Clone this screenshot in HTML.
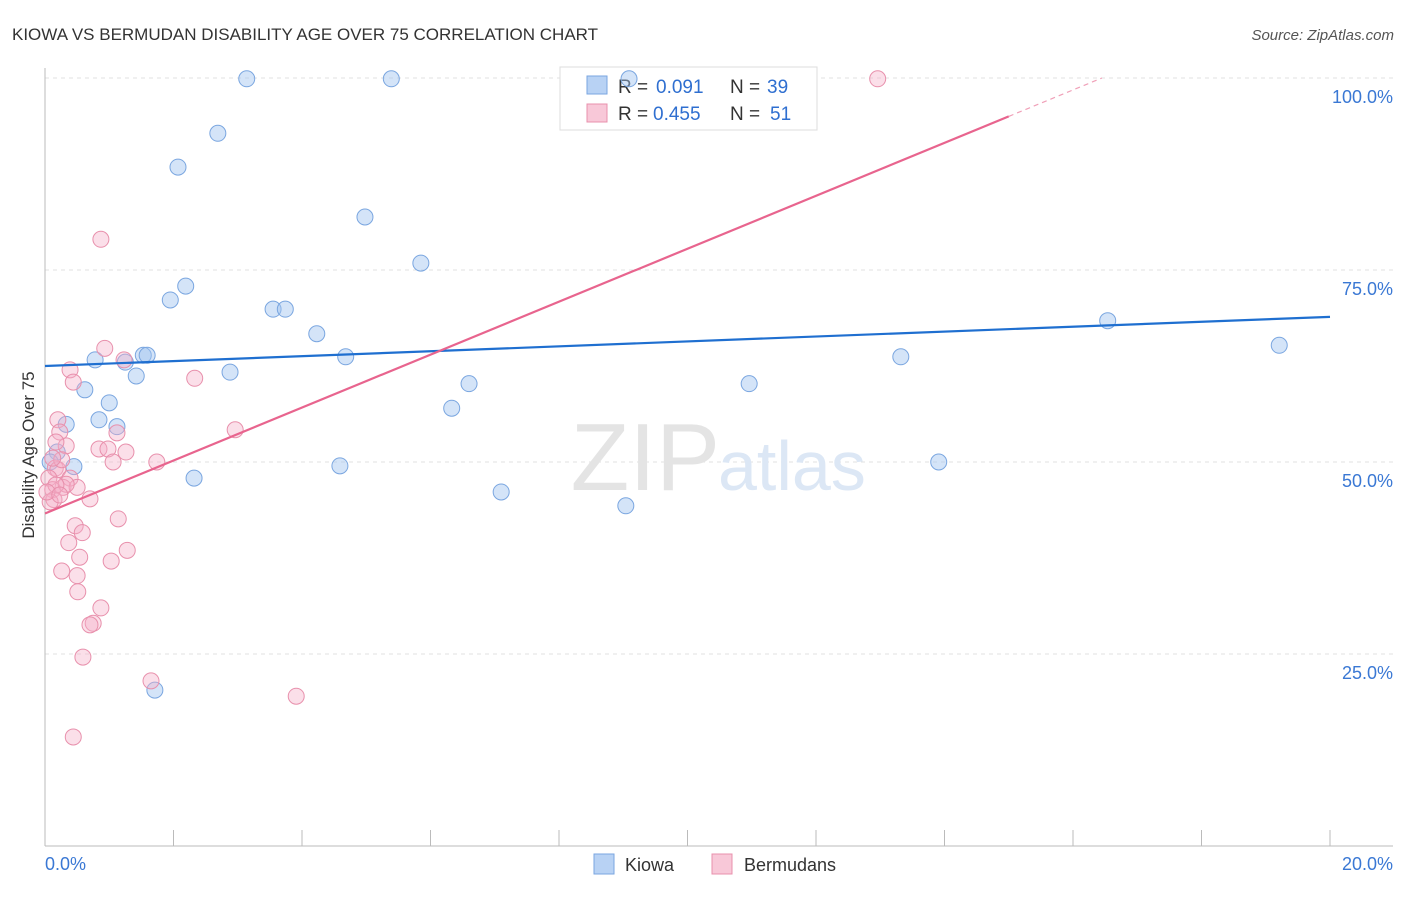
<!DOCTYPE html>
<html><head><meta charset="utf-8"><style>
body{margin:0;background:#fff;font-family:"Liberation Sans",sans-serif}
svg text{font-family:"Liberation Sans",sans-serif}
</style></head><body>
<svg width="1406" height="892">
<text x="12" y="40" font-size="17" fill="#333">KIOWA VS BERMUDAN DISABILITY AGE OVER 75 CORRELATION CHART</text>
<text x="1394" y="40" font-size="15" fill="#555" text-anchor="end" font-style="italic">Source: ZipAtlas.com</text>
<g id="grid"></g>
<text x="720" y="490" font-size="96" fill="#e4e4e4" text-anchor="end" font-family="Liberation Serif">ZIP</text>
<text x="718" y="490" font-size="70" fill="#dce7f5">atlas</text>
<text x="34" y="455" font-size="17" fill="#333" text-anchor="middle" transform="rotate(-90 34 455)">Disability Age Over 75</text>
<g>
<rect x="560" y="67" width="257" height="63" fill="#fff" stroke="#ddd"/>
<rect x="587" y="76" width="20" height="18" fill="#b8d2f4" stroke="#7aa6e0"/>
<text x="618" y="93" font-size="19" fill="#333">R =</text>
<text x="656" y="93" font-size="19" fill="#2f6fd0">0.091</text>
<text x="730" y="93" font-size="19" fill="#333">N =</text>
<text x="767" y="93" font-size="19" fill="#2f6fd0">39</text>
<rect x="587" y="104" width="20" height="18" fill="#f8c8d8" stroke="#e890ac"/>
<text x="618" y="120" font-size="19" fill="#333">R =</text>
<text x="653" y="120" font-size="19" fill="#2f6fd0">0.455</text>
<text x="730" y="120" font-size="19" fill="#333">N =</text>
<text x="770" y="120" font-size="19" fill="#2f6fd0">51</text>
</g>
<g id="pts"></g>
<g id="lines"></g>
<g>
<rect x="594" y="854" width="20" height="20" fill="#b8d2f4" stroke="#7aa6e0"/>
<text x="625" y="871" font-size="18" fill="#333">Kiowa</text>
<rect x="712" y="854" width="20" height="20" fill="#f8c8d8" stroke="#e890ac"/>
<text x="744" y="871" font-size="18" fill="#333">Bermudans</text>
</g>
</svg>
<script>
const blueX=[3.14,5.39,9.09,2.69,2.07,4.98,5.85,2.19,1.95,3.55,3.74,4.23,0.78,1.25,1.53,1.59,4.68,2.88,1.42,6.60,0.62,1.00,6.33,0.33,0.84,1.12,0.19,0.45,4.59,0.08,2.32,7.10,9.04,1.71,10.96,13.32,13.91,16.54,19.21];
const blueY=[99.9,99.9,99.9,92.8,88.4,81.9,75.9,72.9,71.1,69.9,69.9,66.7,63.3,63.0,63.9,63.9,63.7,61.7,61.2,60.2,59.4,57.7,57.0,54.9,55.5,54.6,51.3,49.4,49.5,50.0,47.9,46.1,44.3,20.3,60.2,63.7,50.0,68.4,65.2];
const pinkX=[12.96,0.87,0.93,1.23,2.33,0.39,0.44,0.20,0.23,1.12,0.33,0.84,0.98,1.26,0.17,2.96,1.74,1.06,0.16,0.20,0.39,0.06,0.28,0.50,0.12,0.33,0.70,0.14,0.08,0.47,0.58,1.14,0.37,1.28,0.54,1.03,0.26,0.50,0.51,0.87,0.75,0.70,0.59,1.65,3.91,0.44,0.17,0.03,0.26,0.12,0.23];
const pinkY=[99.9,79.0,64.8,63.3,60.9,62.0,60.4,55.5,53.9,53.8,52.1,51.7,51.7,51.3,52.6,54.2,50.0,50.0,49.2,49.0,47.9,47.9,46.7,46.7,46.4,47.1,45.2,45.1,44.8,41.7,40.8,42.6,39.5,38.5,37.6,37.1,35.8,35.2,33.1,31.0,29.0,28.8,24.6,21.5,19.5,14.2,47.0,46.1,50.3,50.5,45.7];
const blueTrend=[62.5,68.9];
const pinkTrend=[43.3,95.0];
const yTicks=[25,50,75,100];
const xTickLabels=["0.0%","20.0%"];
const NS="http://www.w3.org/2000/svg";
const X=v=>45+v/20*1285, Y=v=>846-v/25*192;
function mk(t,a,p){const e=document.createElementNS(NS,t);for(const k in a)e.setAttribute(k,a[k]);p.appendChild(e);return e;}
const g=document.getElementById('grid');
yTicks.forEach(t=>{
 const l=mk('line',{x1:45,x2:1393,y1:Y(t),y2:Y(t),stroke:'#e2e2e2','stroke-dasharray':'4,4'},g);
 
 
 const tx=mk('text',{x:1393,y:Y(t)+25,'font-size':18,fill:'#3a78d4','text-anchor':'end'},g);
 tx.textContent=t.toFixed(1)+'%';
 
 
});
const ax=mk('line',{x1:45,x2:45,y1:68,y2:846,stroke:'#bbb'},g);


const bx=mk('line',{x1:45,x2:1393,y1:846,y2:846,stroke:'#bbb'},g);


for(let i=0;i<=10;i++){const t=mk('line',{x1:X(i*2),x2:X(i*2),y1:830,y2:846,stroke:'#bbb'},g);
 
 }
[[0,'start',45],[20,'end',1393]].forEach((d,i)=>{const t=mk('text',{x:d[2],y:870,'font-size':18,fill:'#3a78d4','text-anchor':d[1]},g);t.textContent=xTickLabels[i];
 
 });
const p=document.getElementById('pts');
blueX.forEach((v,i)=>{const c=mk('circle',{cx:X(v),cy:Y(blueY[i]),r:8,fill:'rgba(160,195,240,0.45)',stroke:'#7aa6e0','stroke-width':1},p);
 
 });
pinkX.forEach((v,i)=>{const c=mk('circle',{cx:X(v),cy:Y(pinkY[i]),r:8,fill:'rgba(245,175,200,0.4)',stroke:'#e890ac','stroke-width':1},p);
 
 });
const L=document.getElementById('lines');
const bl=mk('line',{x1:X(0),y1:Y(blueTrend[0]),x2:X(20),y2:Y(blueTrend[1]),stroke:'#1f6fd0','stroke-width':2.2},L);


const pl=mk('line',{x1:X(0),y1:Y(pinkTrend[0]),x2:X(15),y2:Y(pinkTrend[1]),stroke:'#e8648e','stroke-width':2.2},L);


const slope=(pinkTrend[1]-pinkTrend[0])/15, xe=(100-pinkTrend[0])/slope;
const pd=mk('line',{x1:X(15),y1:Y(pinkTrend[1]),x2:X(xe),y2:Y(100),stroke:'#f0a0b8','stroke-width':1.2,'stroke-dasharray':'5,4'},L);


</script>
</body></html>
